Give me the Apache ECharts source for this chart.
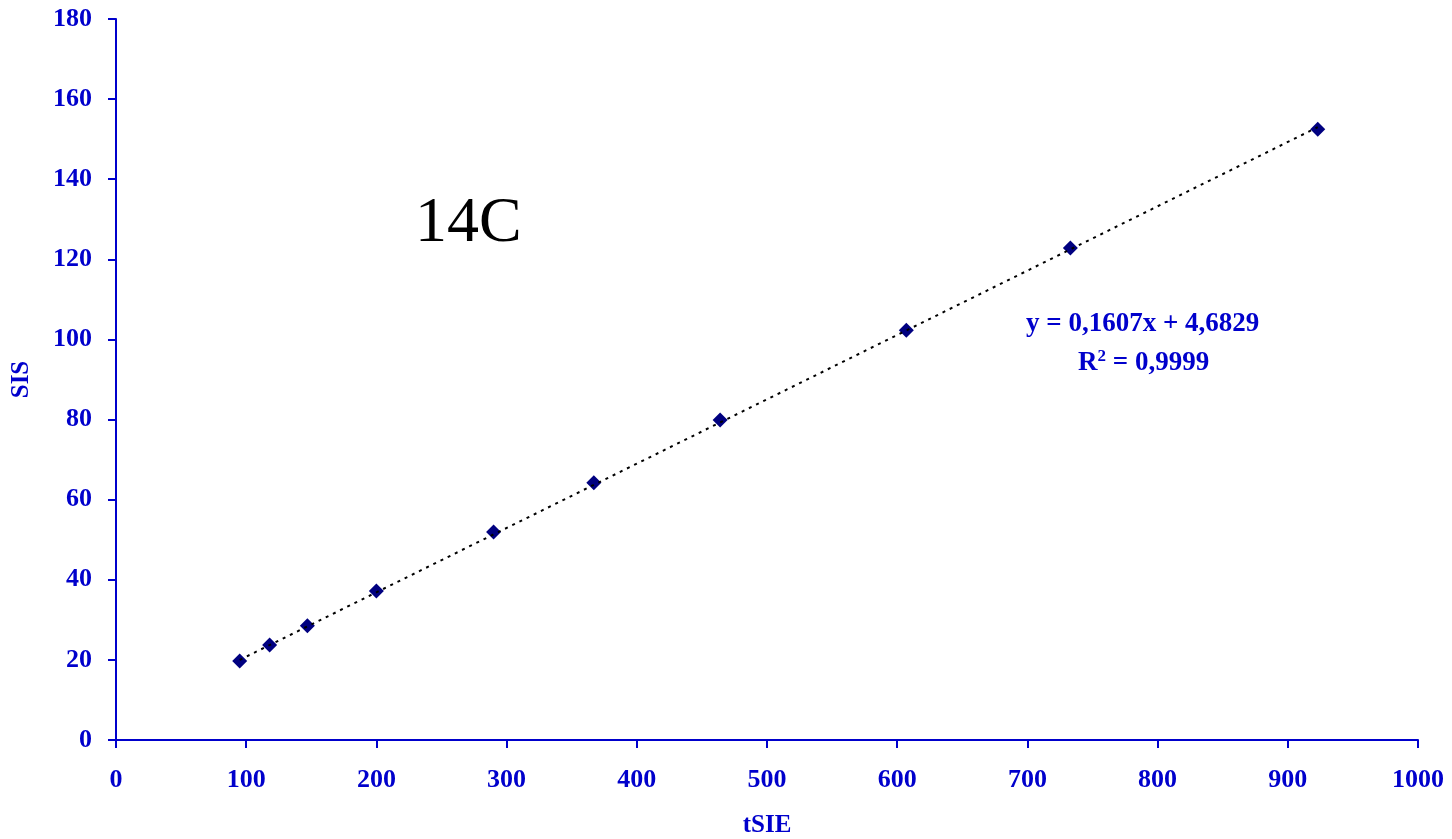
<!DOCTYPE html>
<html>
<head>
<meta charset="utf-8">
<script src="https://cdn.jsdelivr.net/npm/echarts@6/dist/echarts.min.js"></script>
<style>
  html, body { margin: 0; padding: 0; background: #fff; }
  #chart { width: 1452px; height: 839px; }
</style>
</head>
<body>
<div id="chart"></div>
<script>
// measured points (tSIE, SIS)
const tSIE = [95, 118, 147, 200, 290, 367, 464, 607, 733, 923];
const SIS = [19.7, 23.7, 28.5, 37.2, 51.9, 64.2, 79.9, 102.3, 122.8, 152.5];
// trendline ends
const trendX = [95, 923];
const trendY = [20.0, 153.0];
const xTicks = [0, 100, 200, 300, 400, 500, 600, 700, 800, 900, 1000];
const yTicks = [0, 20, 40, 60, 80, 100, 120, 140, 160, 180];

const axisBlue = "#0000CC";
const tickFont = {
  color: axisBlue,
  fontFamily: "Liberation Serif",
  fontWeight: "bold",
  fontSize: 26,
};
const nameFont = {
  color: axisBlue,
  fontFamily: "Liberation Serif",
  fontWeight: "bold",
  fontSize: 25,
};

const chart = echarts.init(document.getElementById("chart"));

chart.setOption({
  animation: false,
  grid: {
    left: 116, right: 34, top: 19, bottom: 99,
    containLabel: false,
    outerBoundsMode: "none",
  },
  xAxis: {
    type: "value",
    min: xTicks[0],
    max: xTicks[xTicks.length - 1],
    interval: 100,
    name: "tSIE",
    nameLocation: "middle",
    nameGap: 73,
    nameTextStyle: nameFont,
    axisLine: { lineStyle: { color: axisBlue, width: 2 } },
    axisTick: { length: 8, lineStyle: { color: axisBlue, width: 2 } },
    axisLabel: Object.assign({ margin: 27, formatter: (v) => String(v) }, tickFont),
    splitLine: { show: false },
  },
  yAxis: {
    type: "value",
    min: yTicks[0],
    max: yTicks[yTicks.length - 1],
    interval: 20,
    name: "SIS",
    nameLocation: "middle",
    nameGap: 82,
    nameRotate: 90,
    nameTextStyle: nameFont,
    axisLine: { show: true, lineStyle: { color: axisBlue, width: 2 } },
    axisTick: { show: true, length: 8, lineStyle: { color: axisBlue, width: 2 } },
    axisLabel: Object.assign({ margin: 24 }, tickFont),
    splitLine: { show: false },
  },
  series: [
    {
      type: "line",
      data: trendX.map((x, i) => [x, trendY[i]]),
      symbol: "none",
      lineStyle: { color: "#000", width: 2, type: [3, 5] },
      z: 3,
    },
    {
      type: "scatter",
      data: tSIE.map((x, i) => [x, SIS[i]]),
      symbol: "diamond",
      symbolSize: 15,
      itemStyle: { color: "#000080", opacity: 1 },
      z: 2,
    },
  ],
  graphic: [
    {
      type: "text",
      left: 415,
      top: 192,
      style: {
        text: "14C",
        fill: "#000",
        font: "64px 'Liberation Serif'",
      },
    },
    {
      type: "text",
      left: 1026,
      top: 311,
      style: {
        text: "y = 0,1607x + 4,6829",
        fill: axisBlue,
        font: "bold 27px 'Liberation Serif'",
      },
    },
    {
      type: "text",
      left: 1078,
      top: 348,
      style: {
        text: "{b|R}{s|2}{b| = 0,9999}",
        rich: {
          b: { fill: axisBlue, font: "bold 27px 'Liberation Serif'", verticalAlign: "bottom" },
          s: { fill: axisBlue, font: "bold 17px 'Liberation Serif'", verticalAlign: "top", padding: [0, 0, 12, 0] },
        },
      },
    },
  ],
});
</script>
</body>
</html>
